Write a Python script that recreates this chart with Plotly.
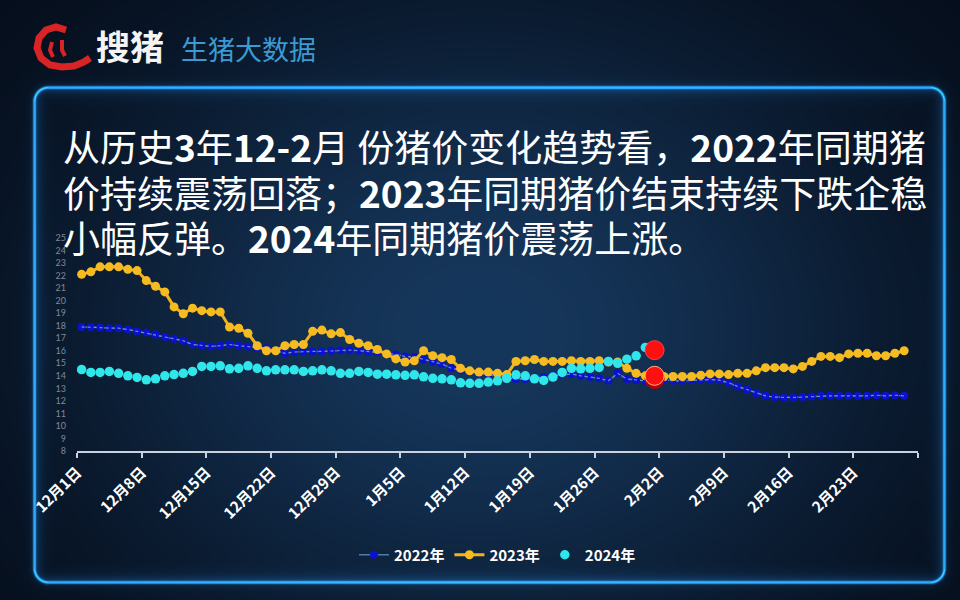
import base64, struct, zlib
import numpy as np
import pandas as pd
import plotly.graph_objects as go

# ---------------- data ----------------
start_date = "2023-12-01"          # nominal calendar used for the 12月–2月 window
tick_dates = ["2023-12-01", "2023-12-08", "2023-12-15", "2023-12-22", "2023-12-29",
              "2024-01-05", "2024-01-12", "2024-01-19", "2024-01-26", "2024-02-02",
              "2024-02-09", "2024-02-16", "2024-02-23", "2024-03-01"]
tick_labels = ["12月1日", "12月8日", "12月15日", "12月22日", "12月29日", "1月5日", "1月12日",
               "1月19日", "1月26日", "2月2日", "2月9日", "2月16日", "2月23日", ""]
series_names = ["2022年", "2023年", "2024年"]

price_2022 = [17.9, 17.9, 17.85, 17.8, 17.8, 17.7, 17.55, 17.45, 17.3, 17.1,
              16.95, 16.8, 16.5, 16.4, 16.35, 16.4, 16.5, 16.4, 16.35, 16.25,
              16.2, 16.0, 15.8, 15.9, 15.95, 15.95, 15.95, 16.0, 16.05, 16.05,
              16.0, 15.95, 15.9, 15.8, 15.7, 15.55, 15.5, 15.3, 15.15, 14.95,
              14.6, 14.45, 14.3, 14.2, 14.1, 14.0, 13.85, 13.75, 13.75, 13.8,
              13.9, 14.0, 14.1, 14.15, 14.0, 13.9, 13.8, 13.6, 14.2, 13.75,
              13.65, 13.6, 13.75, 13.65, 13.6, 13.6, 13.65, 13.7, 13.7, 13.65,
              13.45, 13.15, 12.9, 12.6, 12.4, 12.3, 12.27, 12.27, 12.3, 12.35,
              12.4, 12.4, 12.4, 12.38, 12.38, 12.4, 12.45, 12.4, 12.45, 12.4]
price_2023 = [22.1, 22.3, 22.7, 22.7, 22.7, 22.5, 22.4, 21.6, 21.15, 20.7,
              19.5, 18.95, 19.4, 19.2, 19.1, 19.1, 17.9, 17.8, 17.4, 16.4,
              16.0, 16.0, 16.4, 16.5, 16.5, 17.55, 17.65, 17.35, 17.45, 16.9,
              16.6, 16.4, 16.1, 15.75, 15.35, 15.1, 15.2, 16.0, 15.6, 15.45,
              15.3, 14.6, 14.4, 14.3, 14.3, 14.2, 14.1, 15.15, 15.2, 15.3,
              15.15, 15.15, 15.15, 15.2, 15.15, 15.15, 15.2, 15.1, 15.1, 14.6,
              14.2, 14.0, 14.0, 13.95, 13.95, 13.95, 13.95, 14.05, 14.15, 14.15,
              14.1, 14.2, 14.2, 14.4, 14.65, 14.65, 14.65, 14.55, 14.75, 15.15,
              15.55, 15.55, 15.45, 15.75, 15.8, 15.8, 15.6, 15.6, 15.8, 16.0]
price_2024 = [14.5, 14.27, 14.27, 14.35, 14.2, 14.0, 13.87, 13.68, 13.76, 14.0,
              14.1, 14.2, 14.35, 14.75, 14.75, 14.8, 14.56, 14.6, 14.8, 14.6,
              14.4, 14.48, 14.48, 14.48, 14.35, 14.4, 14.48, 14.4, 14.2, 14.2,
              14.35, 14.27, 14.13, 14.13, 14.08, 14.04, 14.08, 13.92, 13.8, 13.76,
              13.68, 13.44, 13.4, 13.4, 13.5, 13.6, 13.8, 14.08, 14.0, 13.76,
              13.63, 13.9, 14.27, 14.6, 14.56, 14.6, 14.67, 15.15, 15.0, 15.33,
              15.6, 16.27, 16.05]
highlight_day = 62   # 2月1日

# ---------------- geometry helpers ----------------
W, H = 960, 600
ML, MR, MT, MB = 77, 42, 238, 149
PW, PH = W - ML - MR, H - MT - MB


def fx(x):
    return (x - ML) / PW


def fy(y):
    return (H - MB - y) / PH


# ---------------- background picture (gradient + glowing frame) ----------------
def make_png(arr):
    h, w = arr.shape[:2]
    raw = b"".join(b"\x00" + arr[i].tobytes() for i in range(h))

    def chunk(tag, data):
        return (struct.pack(">I", len(data)) + tag + data +
                struct.pack(">I", zlib.crc32(tag + data) & 0xffffffff))
    return (b"\x89PNG\r\n\x1a\n" +
            chunk(b"IHDR", struct.pack(">IIBBBBB", w, h, 8, 2, 0, 0, 0)) +
            chunk(b"IDAT", zlib.compress(raw, 9)) + chunk(b"IEND", b""))


yy, xx = np.mgrid[0:H, 0:W].astype(float)
t = np.exp(-(((xx - 480) / 420) ** 2 + ((yy - 330) / 330) ** 2))
dark = np.array([4, 10, 21], float)
light = np.array([22, 55, 92], float)
img = dark + (light - dark) * t[..., None]

cx, cy, hx, hy, rr = 489.0, 334.5, 455.0, 247.5, 14.0
qx = np.abs(xx - cx) - (hx - rr)
qy = np.abs(yy - cy) - (hy - rr)
d = (np.sqrt(np.maximum(qx, 0) ** 2 + np.maximum(qy, 0) ** 2) +
     np.minimum(np.maximum(qx, qy), 0) - rr)
line_a = np.exp(-(d / 1.4) ** 2)
inner_a = np.where(d < 0, np.exp(d / 5.0) * 0.55, 0)
outer_a = np.where(d > 0, np.exp(-d / 3.0) * 0.35, 0)
img = img + np.array([40, 150, 215]) * line_a[..., None]
img = img + np.array([15, 95, 160]) * inner_a[..., None]
img = img + np.array([15, 90, 150]) * outer_a[..., None]
img = np.clip(img, 0, 255).astype(np.uint8)
bg_src = "data:image/png;base64," + base64.b64encode(make_png(img)).decode()

# ---------------- figure ----------------
base = pd.Timestamp(start_date)


def day_x(n):
    return [base + pd.Timedelta(days=i, hours=12) for i in range(n)]


fig = go.Figure()
fig.add_trace(go.Scatter(
    x=day_x(len(price_2022)), y=price_2022, name=series_names[0], mode="lines+markers",
    line=dict(color="#4f7aa6", width=1.5),
    marker=dict(color="#0b12cf", size=8)))
fig.add_trace(go.Scatter(
    x=day_x(len(price_2022)), y=price_2022, mode="lines", showlegend=False,
    hoverinfo="skip", line=dict(color="#6f8fc8", width=1.2, dash="dot")))
fig.add_trace(go.Scatter(
    x=day_x(len(price_2023)), y=price_2023, name=series_names[1], mode="lines+markers",
    line=dict(color="#f2b21c", width=3),
    marker=dict(color="#f7bb22", size=9)))
fig.add_trace(go.Scatter(
    x=day_x(len(price_2024)), y=price_2024, name=series_names[2], mode="markers",
    marker=dict(color="#2fe6ea", size=9.5)))
hl_x = base + pd.Timedelta(days=highlight_day, hours=12)
fig.add_trace(go.Scatter(
    x=[hl_x] * 3,
    y=[price_2022[highlight_day], price_2023[highlight_day], price_2024[highlight_day]],
    mode="markers", showlegend=False, hoverinfo="skip",
    marker=dict(color=["#b80000", "#ff1010", "#ff1010"], size=19,
                line=dict(color=["#b80000", "#ffb08a", "#ff4040"], width=1))))

fig.update_xaxes(
    type="date", range=[start_date, "2024-03-01"],
    tickvals=tick_dates, ticktext=tick_labels, tickangle=-45,
    tickfont=dict(family="Noto Sans CJK SC", size=15, color="#ffffff", weight="bold"),
    showline=True, linecolor="#c9d2de", linewidth=1.5,
    ticks="outside", ticklen=5, tickcolor="#c9d2de", tickwidth=1.5,
    showgrid=False, zeroline=False)
fig.update_yaxes(
    range=[8, 25], dtick=1, tick0=8,
    tickfont=dict(family="Lato", size=9, color="#7f8a99"),
    showline=False, showgrid=False, zeroline=False, ticks="", ticklabelstandoff=10)

ann = []
title_lines = [
    "从历史<b>3</b>年<b>12-2</b>月 份猪价变化趋势看，<b>2022</b>年同期猪",
    "价持续震荡回落；<b>2023</b>年同期猪价结束持续下跌企稳",
    "小幅反弹。<b>2024</b>年同期猪价震荡上涨。",
]
for i, txt in enumerate(title_lines):
    ann.append(dict(text=txt, x=fx(61), y=fy(146 + 45.5 * i), xref="paper", yref="paper",
                    xanchor="left", yanchor="middle", showarrow=False,
                    font=dict(family="Noto Sans CJK SC", size=37, color="#ffffff")))
ann.append(dict(text="搜猪", x=fx(94), y=fy(45), xref="paper", yref="paper",
                xanchor="left", yanchor="middle", showarrow=False,
                font=dict(family="Noto Sans CJK SC", size=34, color="#f4f4f4", weight="bold")))
ann.append(dict(text="生猪大数据", x=fx(179), y=fy(48), xref="paper", yref="paper",
                xanchor="left", yanchor="middle", showarrow=False,
                font=dict(family="Noto Sans CJK SC", size=27, color="#3c9ad2")))


def path(pts, close=False):
    s = "M " + " L ".join(f"{fx(x):.5f},{fy(y):.5f}" for x, y in pts)
    return s + (" Z" if close else "")


# red swirl logo (decorative)
logo_outer = [(66, 30), (56, 27), (46, 30), (39, 38), (37, 48), (41, 58), (50, 65),
              (62, 67), (74, 66), (84, 62), (90, 58)]
logo_inner1 = [(52, 42), (50, 50), (53, 57)]
logo_inner2 = [(62, 40), (62, 50), (65, 56)]
shapes = [
    dict(type="path", path=path(logo_outer), xref="paper", yref="paper",
         line=dict(color="#d82424", width=7)),
    dict(type="path", path=path(logo_inner1), xref="paper", yref="paper",
         line=dict(color="#d82424", width=4)),
    dict(type="path", path=path(logo_inner2), xref="paper", yref="paper",
         line=dict(color="#d82424", width=4)),
]

fig.update_layout(
    width=W, height=H, margin=dict(l=ML, r=MR, t=MT, b=MB, autoexpand=False),
    paper_bgcolor="#050c18", plot_bgcolor="rgba(0,0,0,0)",
    images=[dict(source=bg_src, xref="paper", yref="paper", x=-ML / PW, y=1 + MT / PH,
                 sizex=W / PW, sizey=H / PH, xanchor="left", yanchor="top",
                 sizing="stretch", layer="below")],
    annotations=ann, shapes=shapes,
    legend=dict(orientation="h", x=0.5, xanchor="center", y=fy(555), yanchor="middle",
                bgcolor="rgba(0,0,0,0)",
                font=dict(family="Noto Sans CJK SC", size=15, color="#ffffff", weight="bold")),
    showlegend=True,
)
fig.write_html("out.html", post_script="document.body.style.margin='0px';",
               config={"displayModeBar": False})
